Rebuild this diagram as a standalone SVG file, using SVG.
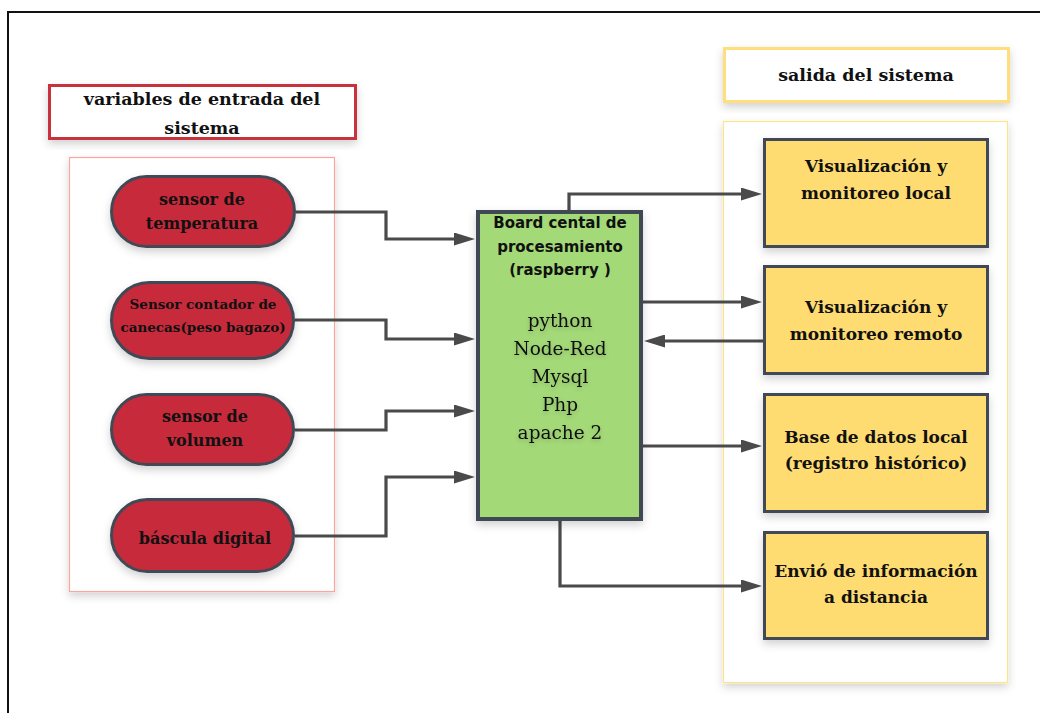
<svg xmlns="http://www.w3.org/2000/svg" width="1040" height="713" viewBox="0 0 1040 713">
<style>
.t{font-family:"DejaVu Serif","Liberation Serif",serif;font-weight:bold;fill:#111;text-anchor:middle}
.r{font-family:"DejaVu Serif","Liberation Serif",serif;font-weight:normal;fill:#111;text-anchor:middle;font-size:18.5px}
.s{font-family:"DejaVu Sans","Liberation Sans",sans-serif;font-weight:bold;fill:#111;text-anchor:middle;font-size:15px}
.pill{fill:#c62b3a;stroke:#404a55;stroke-width:3}
.ybox{fill:#fedc72;stroke:#404a55;stroke-width:3}
.conn{fill:none;stroke:#4a4a4a;stroke-width:3.2}
.h17{font-size:17.5px}
.p16{font-size:16px}
.y17{font-size:17px}
</style>
<defs>
<filter id="sh" x="-20%" y="-20%" width="140%" height="140%">
<feDropShadow dx="0" dy="4" stdDeviation="4" flood-color="#000" flood-opacity="0.18"/>
</filter>
<filter id="ts" x="-10%" y="-30%" width="120%" height="160%">
<feDropShadow dx="0" dy="2" stdDeviation="2" flood-color="#000" flood-opacity="0.18"/>
</filter>
<marker id="ah" viewBox="0 0 21 13" refX="0" refY="6.5" markerWidth="21" markerHeight="13" markerUnits="userSpaceOnUse" orient="auto">
<path d="M0,0 L21,6.5 L0,13 z" fill="#4a4a4a"/>
</marker>
</defs>
<rect width="1040" height="713" fill="#fff"/>
<g id="frame">
<line x1="7" y1="12" x2="1040" y2="12" stroke="#111" stroke-width="2"/>
<line x1="8" y1="12" x2="8" y2="713" stroke="#111" stroke-width="2"/>
</g>
<g id="input-title">
<rect x="49.5" y="85.5" width="306" height="53" fill="#fff" stroke="#c8303d" stroke-width="3" filter="url(#sh)"/>
<text class="t h17" x="202" y="105">variables de entrada del</text>
<text class="t h17" x="202" y="134">sistema</text>
</g>
<g id="input-container">
<rect x="69.5" y="157.5" width="265" height="434" fill="#fff" stroke="#f8a69e" stroke-width="1.2" filter="url(#sh)"/>
</g>
<g id="output-title">
<rect x="724.5" y="48.5" width="284" height="53" fill="#fff" stroke="#fedf7c" stroke-width="3" filter="url(#sh)"/>
<text class="t h17" x="866" y="81">salida del sistema</text>
</g>
<g id="output-container">
<rect x="723.5" y="121.5" width="284" height="561" fill="#fff" stroke="#fde38a" stroke-width="1.2" filter="url(#sh)"/>
</g>
<g id="connectors">
<path class="conn" d="M296,212 H386 V239 H454" marker-end="url(#ah)"/>
<path class="conn" d="M295,320 H386 V339 H454" marker-end="url(#ah)"/>
<path class="conn" d="M295,430 H386 V411 H454" marker-end="url(#ah)"/>
<path class="conn" d="M295,536 H386 V477 H454" marker-end="url(#ah)"/>
<path class="conn" d="M569,210 V194 H741" marker-end="url(#ah)"/>
<path class="conn" d="M643,302 H741" marker-end="url(#ah)"/>
<path class="conn" d="M763,341 H665" marker-end="url(#ah)"/>
<path class="conn" d="M643,446 H741" marker-end="url(#ah)"/>
<path class="conn" d="M560,521 V586 H741" marker-end="url(#ah)"/>
</g>
<g id="sensor-temperatura">
<rect class="pill" x="111.5" y="176.5" width="183" height="70" rx="35" filter="url(#sh)"/>
<text class="t p16" x="202" y="205">sensor de</text>
<text class="t p16" x="202" y="229">temperatura</text>
</g>
<g id="sensor-contador">
<rect class="pill" x="111.5" y="282.5" width="182" height="76" rx="38" filter="url(#sh)"/>
<text class="t" font-size="13.5" x="203" y="309">Sensor contador de</text>
<text class="t" font-size="13.5" x="203" y="332">canecas(peso bagazo)</text>
</g>
<g id="sensor-volumen">
<rect class="pill" x="111.5" y="394.5" width="182" height="70" rx="35" filter="url(#sh)"/>
<text class="t p16" x="205" y="422">sensor de</text>
<text class="t p16" x="205" y="446">volumen</text>
</g>
<g id="bascula">
<rect class="pill" x="111.5" y="499.5" width="182" height="72" rx="36" filter="url(#sh)"/>
<text class="t p16" x="205" y="544">báscula digital</text>
</g>
<g id="board">
<rect x="478" y="212" width="163" height="307" fill="#a3d977" stroke="#3f4852" stroke-width="4" filter="url(#sh)"/>
<text class="s" x="560" y="228">Board cental de</text>
<text class="s" x="560" y="252">procesamiento</text>
<text class="s" x="560" y="275">(raspberry )</text>
<g filter="url(#ts)">
<text class="r" x="560" y="327">python</text>
<text class="r" x="560" y="355">Node-Red</text>
<text class="r" x="560" y="383">Mysql</text>
<text class="r" x="560" y="411">Php</text>
<text class="r" x="560" y="439">apache 2</text>
</g>
</g>
<g id="vis-local">
<rect class="ybox" x="764.5" y="139.5" width="223" height="107" filter="url(#sh)"/>
<text class="t y17" x="876" y="172">Visualización y</text>
<text class="t y17" x="876" y="199">monitoreo local</text>
</g>
<g id="vis-remoto">
<rect class="ybox" x="764.5" y="266.5" width="223" height="107" filter="url(#sh)"/>
<text class="t y17" x="876" y="313">Visualización y</text>
<text class="t y17" x="876" y="340">monitoreo remoto</text>
</g>
<g id="base-datos">
<rect class="ybox" x="764.5" y="394.5" width="223" height="117" filter="url(#sh)"/>
<text class="t y17" x="876" y="443">Base de datos local</text>
<text class="t y17" x="876" y="469">(registro histórico)</text>
</g>
<g id="envio">
<rect class="ybox" x="764.5" y="532.5" width="223" height="106" filter="url(#sh)"/>
<text class="t y17" x="876" y="577">Envió de información</text>
<text class="t y17" x="876" y="603">a distancia</text>
</g>
</svg>
